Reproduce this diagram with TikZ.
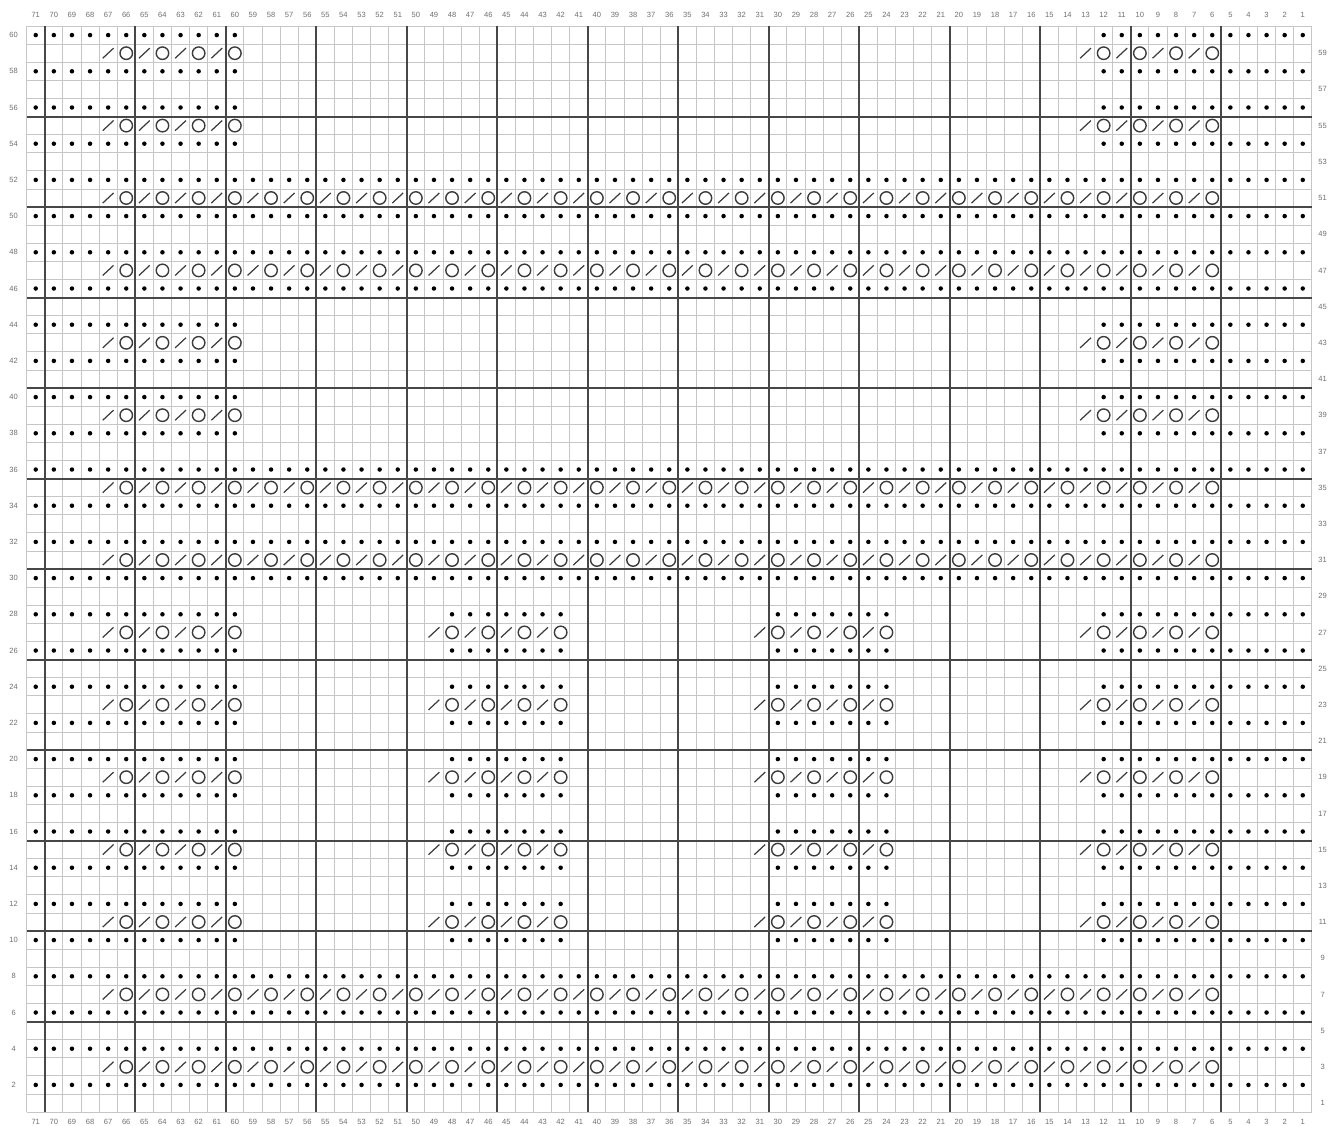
\documentclass[tikz,border=0pt]{standalone}
\usepackage{fontspec}
\setmainfont{Liberation Sans}

\definecolor{gridgray}{HTML}{C6C6C6}
\definecolor{boldgray}{HTML}{474747}
\definecolor{labelgray}{HTML}{6E6E6E}
\definecolor{symgray}{HTML}{3C3C3C}

% purl dots: row, first col, last col
\newcommand{\purlrow}[3]{%
  \foreach \c in {#2,...,#3}{\fill[purldot] (71.5-\c,#1-0.5) circle (0.045cm);}}
% yarn over / k2tog pairs: row, first col (even), last col (odd)
\newcommand{\yorow}[3]{%
  \foreach \c in {#2,...,#3}{%
    \ifodd\c
      \draw[kslash] (71.2-\c,#1-0.78) -- (71.8-\c,#1-0.22);
    \else
      \draw[yoring] (71.5-\c,#1-0.5) circle (0.125cm);
    \fi}}

\begin{document}
\begin{tikzpicture}[
        x=0.362cm, y=0.362cm,
        gridline/.style={gridgray, line width=0.5pt},
        boldline/.style={boldgray, line width=1.1pt},
        purldot/.style={black},
        yoring/.style={symgray, line width=0.8pt},
        kslash/.style={symgray, line width=0.7pt},
        numlabel/.style={labelgray, inner sep=0pt, font=\fontsize{4.3}{5}\selectfont}
    ]
        \useasboundingbox (-1.475,-0.72) rectangle (71.895,61.44);

        % grid
        \draw[gridline, step=1] (0,0) grid (71,60);
        \foreach \i in {1,6,...,66} \draw[boldline] (\i,0) -- (\i,60);
        \foreach \j in {5,10,...,55} \draw[boldline] (0,\j) -- (71,\j);

        % stitch numbers
        \foreach \c in {1,...,71} {
            \node[numlabel] (top-\c) at (71.5-\c,60.6) {\c};
            \node[numlabel] (bot-\c) at (71.5-\c,-0.55) {\c};
        }
        % row numbers
        \foreach \r in {2,4,...,60} \node[numlabel] (left-\r) at (-0.72,\r-0.5) {\r};
        \foreach \r in {1,3,...,59} \node[numlabel] (right-\r) at (71.6,\r-0.5) {\r};

        % full rows
        \foreach \r in {2,4,6,8,30,32,34,36,46,48,50,52} {\purlrow{\r}{1}{71}}
        \foreach \r in {3,7,31,35,47,51} {\yorow{\r}{6}{67}}

        % side panels
        \foreach \r in {10,12,...,28,38,40,42,44,54,56,58,60} {\purlrow{\r}{60}{71}\purlrow{\r}{1}{12}}
        \foreach \r in {11,15,19,23,27,39,43,55,59} {\yorow{\r}{60}{67}\yorow{\r}{6}{13}}

        % middle blocks
        \foreach \r in {10,12,...,28} {\purlrow{\r}{42}{48}\purlrow{\r}{24}{30}}
        \foreach \r in {11,15,19,23,27} {\yorow{\r}{42}{49}\yorow{\r}{24}{31}}
    \end{tikzpicture}
\end{document}
